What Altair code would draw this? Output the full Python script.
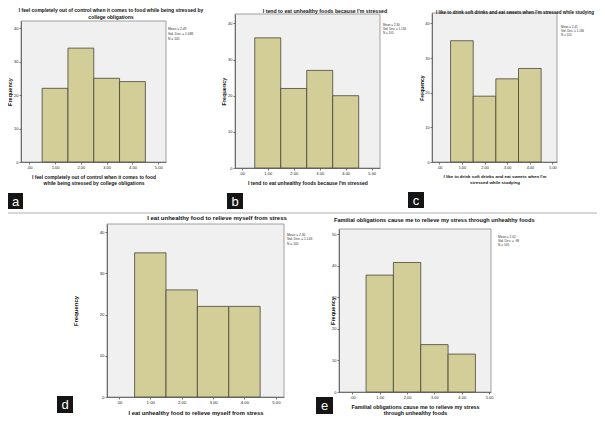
import altair as alt
import pandas as pd

# ---------------- data ----------------
scores = [1, 2, 3, 4]
freq_a = [22, 34, 25, 24]
freq_b = [36, 22, 27, 20]
freq_c = [35, 19, 24, 27]
freq_d = [35, 26, 22, 22]
freq_e = [37, 41, 15, 12]
x_tick_values = [0, 1, 2, 3, 4, 5]
y_ticks_40 = [0, 10, 20, 30, 40]
y_ticks_50 = [0, 10, 20, 30, 40, 50]
panel_letters = ["a", "b", "c", "d", "e"]
chart_titles = [
    "I feel completely out of control when it comes to food while being stressed by\ncollege obligations",
    "I tend to eat unhealthy foods because I'm stressed",
    "I like to drink soft drinks and eat sweets when I'm stressed while studying",
    "I eat unhealthy food to relieve myself from stress",
    "Familial obligations cause me to relieve my stress through unhealthy foods",
]
axis_titles = [
    ["I feel completely out of control when it comes to food",
     "while being stressed by college obligations"],
    "I tend to eat unhealthy foods because I'm stressed",
    ["I like to drink soft drinks and eat sweets when I'm",
     "stressed while studying"],
    "I eat unhealthy food to relieve myself from stress",
    ["Familial obligations cause me to relieve my stress",
     "through unhealthy foods"],
]
stats = [
    "Mean = 2.49\nStd. Dev. = 1.086\nN = 105",
    "Mean = 2.30\nStd. Dev. = 1.134\nN = 105",
    "Mean = 2.41\nStd. Dev. = 1.186\nN = 105",
    "Mean = 2.30\nStd. Dev. = 1.143\nN = 105",
    "Mean = 2.02\nStd. Dev. = .98\nN = 105",
]
freqs = [freq_a, freq_b, freq_c, freq_d, freq_e]

# ---------------- layout / style ----------------
W, H = 589, 408
OFF = 8
FONT = "Liberation Sans"
BAR_FILL = "#d3ce97"
BAR_STROKE = "#45453a"
PLOT_BG = "#f0f0f0"
FRAME = "#8c8c8c"

# positions in image pixels (converted to chart pixels with OFF)
layout = [
    dict(box=(21, 166, 21, 162), xdom=(-0.32, 5.3), ydom=(0, 42.1), yticks=y_ticks_40,
         tf=5.0, title_xy=(111, 12), title_align="center", tlh=6.5,
         xf=4.9, xty=16.3, xlh=6.2, yf=5.5, ytx=-12, tick=4.0,
         stats_xy=(168, 30.2), slh=4.8, sf=3.3, lbox=(8, 23, 193, 209)),
    dict(box=(235, 380, 14, 168), xdom=(-0.26, 5.32), ydom=(0, 42.6), yticks=y_ticks_40,
         tf=5.2, title_xy=(325, 12.5), title_align="center", tlh=6.5,
         xf=5.0, xty=16, xlh=6.2, yf=5.5, ytx=-12, tick=4.0,
         stats_xy=(383, 26.2), slh=4.0, sf=3.0, lbox=(227, 243, 193, 209)),
    dict(box=(432, 557, 13, 162), xdom=(-0.32, 5.2), ydom=(0, 43), yticks=y_ticks_40,
         tf=4.5, title_xy=(515, 13.5), title_align="center", tlh=6,
         xf=4.4, xty=15.3, xlh=6.0, yf=5.0, ytx=-11, tick=3.8,
         stats_xy=(561, 28), slh=4.0, sf=3.0, lbox=(408, 424, 192, 208)),
    dict(box=(107, 284, 224, 397), xdom=(-0.38, 5.26), ydom=(0, 42), yticks=y_ticks_40,
         tf=6.0, title_xy=(217, 220), title_align="center", tlh=7,
         xf=5.8, xty=17, xlh=6.5, yf=6.0, ytx=-32, tick=4.3,
         stats_xy=(287, 236.3), slh=4.2, sf=3.3, lbox=(57, 73, 396, 413)),
    dict(box=(339, 491, 229, 392), xdom=(-0.49, 5.07), ydom=(0, 51.6), yticks=y_ticks_50,
         tf=5.6, title_xy=(334, 222), title_align="left", tlh=7,
         xf=5.4, xty=16.5, xlh=5.8, yf=5.5, ytx=-7, tick=4.0,
         stats_xy=(498, 237.5), slh=4.2, sf=3.2, lbox=(316, 333, 397, 414)),
]

LABEL_EXPR = "datum.value == 0 ? '.00' : format(datum.value, '.2f')"


def text_layer(text, x, y, size, weight="normal", align="center", color="#111",
               line_height=None, baseline="alphabetic"):
    kw = dict(align=align, baseline=baseline, fontSize=size, fontWeight=weight,
              color=color, font=FONT, lineBreak="\n")
    if line_height:
        kw["lineHeight"] = line_height
    return alt.Chart(pd.DataFrame({"t": [text]})).mark_text(**kw).encode(
        x=alt.value(x - OFF), y=alt.value(y - OFF), text="t:N")


def panel(freq, L, axis_title):
    x0, x1, yt, yb = L["box"]
    x0, x1, yt, yb = x0 - OFF, x1 - OFF, yt - OFF, yb - OFF
    xs = alt.Scale(domain=list(L["xdom"]), range=[x0, x1], nice=False, zero=False)
    ys = alt.Scale(domain=list(L["ydom"]), range=[yb, yt], nice=False, zero=False)
    # first row = plot background / frame, then the histogram bars
    df = pd.DataFrame({
        "kind": ["bg"] + ["bar"] * len(scores),
        "lo": [L["xdom"][0]] + [s - 0.5 for s in scores],
        "hi": [L["xdom"][1]] + [s + 0.5 for s in scores],
        "base": [L["ydom"][0]] + [0] * len(scores),
        "top": [L["ydom"][1]] + list(freq),
    })
    xaxis = alt.Axis(
        orient="bottom", offset=yb - H, values=x_tick_values, labelExpr=LABEL_EXPR,
        labelFont=FONT, labelFontSize=L["tick"], labelColor="#222", labelPadding=1,
        labelFlush=False, labelOverlap=False, labelBound=False,
        tickSize=2, tickColor="#444", tickWidth=0.7, domainColor="#555", domainWidth=0.8,
        grid=False, zindex=2, title=axis_title, titleFont=FONT, titleFontSize=L["xf"],
        titleFontWeight="bold", titleColor="#111", titleY=L["xty"],
        titleBaseline="alphabetic", titleLineHeight=L["xlh"])
    yaxis = alt.Axis(
        orient="left", offset=-x0, values=L["yticks"], format="d",
        labelFont=FONT, labelFontSize=L["tick"], labelColor="#222", labelPadding=1,
        labelFlush=False, labelOverlap=False, labelBound=False,
        tickSize=2, tickColor="#444", tickWidth=0.7, domainColor="#555", domainWidth=0.8,
        grid=False, zindex=2, title="Frequency", titleFont=FONT, titleFontSize=L["yf"],
        titleFontWeight="bold", titleColor="#111", titleX=L["ytx"],
        titleBaseline="middle", titleAngle=270)
    return alt.Chart(df).mark_rect(strokeWidth=0.8).encode(
        x=alt.X("lo:Q", scale=xs, axis=xaxis), x2="hi:Q",
        y=alt.Y("top:Q", scale=ys, axis=yaxis), y2="base:Q",
        fill=alt.Fill("kind:N", scale=alt.Scale(domain=["bg", "bar"], range=[PLOT_BG, BAR_FILL]), legend=None),
        stroke=alt.Stroke("kind:N", scale=alt.Scale(domain=["bg", "bar"], range=[FRAME, BAR_STROKE]), legend=None),
        order=alt.Order("base:Q"),
    )


layers = []
for i, L in enumerate(layout):
    layers.append(panel(freqs[i], L, axis_titles[i]))

annotations = []
# separator line between rows
annotations.append(alt.Chart(pd.DataFrame({"t": [0]})).mark_rule(color="#b0b0b0", strokeWidth=1).encode(
    x=alt.value(0), x2=alt.value(W), y=alt.value(213 - OFF)))
for i, L in enumerate(layout):
    tx, ty = L["title_xy"]
    annotations.append(text_layer(chart_titles[i], tx, ty, L["tf"], weight="bold",
                                  align=L["title_align"], line_height=L["tlh"]))
    sx, sy = L["stats_xy"]
    annotations.append(text_layer(stats[i], sx, sy, L["sf"], align="left",
                                  color="#333", line_height=L["slh"]))
    bx0, bx1, by0, by1 = L["lbox"]
    annotations.append(alt.Chart(pd.DataFrame({"t": [panel_letters[i]]})).mark_rect(fill="#151515").encode(
        x=alt.value(bx0 - OFF), x2=alt.value(bx1 - OFF),
        y=alt.value(by0 - OFF), y2=alt.value(by1 - OFF)))
    annotations.append(text_layer(panel_letters[i], (bx0 + bx1) / 2, (by0 + by1) / 2 + 0.5, 13,
                                  color="white", baseline="middle"))

chart = alt.layer(*layers, *annotations).resolve_scale(
    x="independent", y="independent"
).properties(
    width=W, height=H, padding=0, autosize=alt.AutoSizeParams(type="none")
).configure_view(stroke=None)

chart.save("out.html", embed_options={"renderer": "svg", "actions": False})
